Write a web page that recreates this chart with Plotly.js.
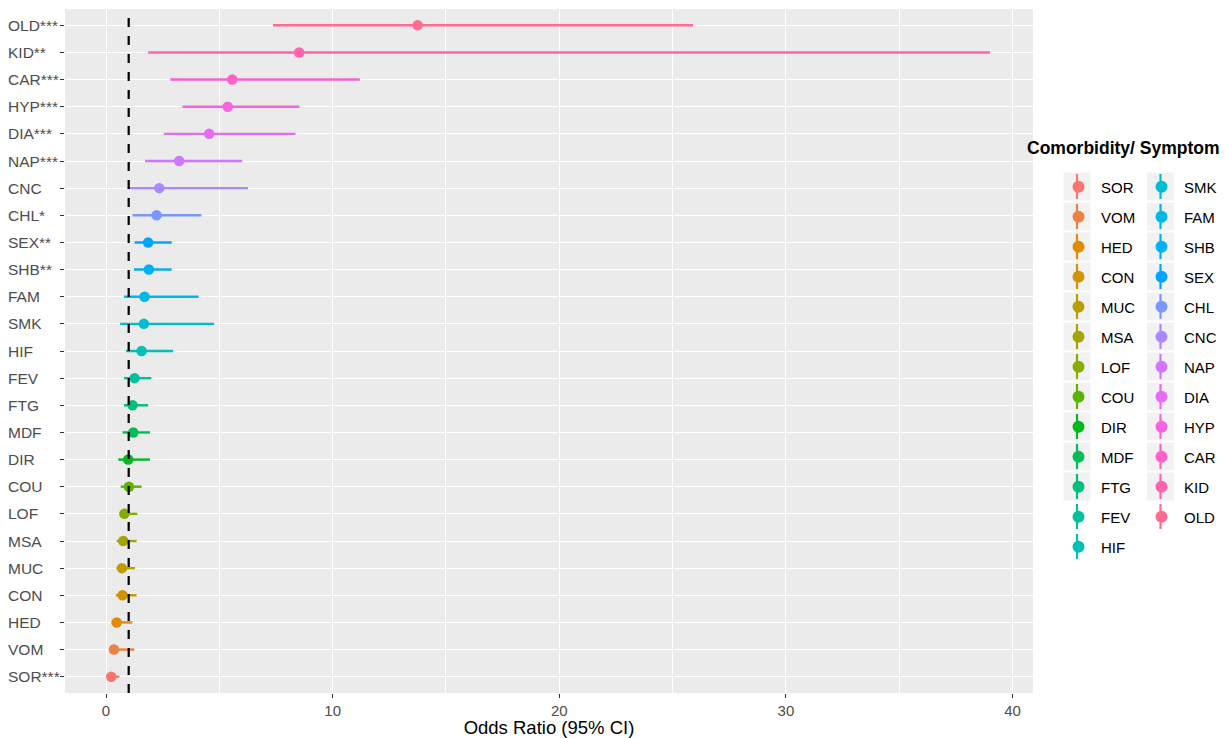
<!DOCTYPE html>
<html>
<head>
<meta charset="utf-8">
<script src="https://cdn.plot.ly/plotly-3.0.1.min.js"></script>
<style>html,body{margin:0;padding:0;background:#fff;}#chart{width:1225px;height:738px;}</style>
</head>
<body>
<div id="chart"></div>
<script>
// Categories, bottom to top (also legend order)
const categories = ["SOR","VOM","HED","CON","MUC","MSA","LOF","COU","DIR","MDF","FTG","FEV","HIF","SMK","FAM","SHB","SEX","CHL","CNC","NAP","DIA","HYP","CAR","KID","OLD"];
const tickLabels = ["SOR***","VOM","HED","CON","MUC","MSA","LOF","COU","DIR","MDF","FTG","FEV","HIF","SMK","FAM","SHB**","SEX**","CHL*","CNC","NAP***","DIA***","HYP***","CAR***","KID**","OLD***"];
const oddsRatio = [0.23,0.35,0.47,0.73,0.70,0.76,0.81,1.01,0.98,1.20,1.17,1.26,1.57,1.67,1.70,1.89,1.86,2.23,2.35,3.23,4.55,5.37,5.57,8.52,13.75];
const ciLow  = [0.06,0.13,0.25,0.43,0.47,0.47,0.62,0.65,0.54,0.73,0.79,0.79,0.88,0.62,0.79,1.23,1.26,1.17,0.95,1.72,2.55,3.37,2.84,1.86,7.37];
const ciHigh = [0.59,1.25,1.16,1.35,1.28,1.35,1.38,1.57,1.94,1.94,1.86,2.00,2.96,4.77,4.08,2.90,2.90,4.21,6.26,6.01,8.36,8.53,11.20,39.00,25.90];
const xTickVals = [0,10,20,30,40];
const referenceOR = 1;
const legendTitle = "Comorbidity/ Symptom";
const xTitle = "Odds Ratio (95% CI)";

// ggplot2 hue palette (HCL, l=65, c=100)
function hcl(h, c, l) {
  const Xn = 95.047, Yn = 100, Zn = 108.883;
  const hr = h * Math.PI / 180;
  const u = c * Math.cos(hr), v = c * Math.sin(hr);
  const Y = l > 8 ? Yn * Math.pow((l + 16) / 116, 3) : Yn * l / 903.3;
  const den = Xn + 15 * Yn + 3 * Zn;
  const un = 4 * Xn / den, vn = 9 * Yn / den;
  const up = u / (13 * l) + un, vp = v / (13 * l) + vn;
  const X = Y * 9 * up / (4 * vp);
  const Z = Y * (12 - 3 * up - 20 * vp) / (4 * vp);
  const x = X / 100, y = Y / 100, z = Z / 100;
  let r = 3.2404542 * x - 1.5371385 * y - 0.4985314 * z;
  let g = -0.9692660 * x + 1.8760108 * y + 0.0415560 * z;
  let b = 0.0556434 * x - 0.2040259 * y + 1.0572252 * z;
  const gam = t => { t = t <= 0.0031308 ? 12.92 * t : 1.055 * Math.pow(t, 1 / 2.4) - 0.055; return Math.round(Math.max(0, Math.min(1, t)) * 255); };
  return "rgb(" + gam(r) + "," + gam(g) + "," + gam(b) + ")";
}
const n = categories.length;
const colors = categories.map((_, i) => hcl(15 + 360 * i / n, 100, 65));

const FONT = "Liberation Sans, Arial, Helvetica, sans-serif";
const W = 1225, H = 738;
const M = {l: 65, r: 192, t: 9, b: 45};
const PW = W - M.l - M.r, PH = H - M.t - M.b;
const px2x = p => (p - M.l) / PW;
const px2y = p => (H - M.b - p) / PH;
const cx2 = p => p / W;
const cy2 = p => 1 - p / H;

const col1Count = 13;
const traces = categories.map((c, i) => ({
  type: "scatter",
  mode: "markers",
  x: [oddsRatio[i]],
  y: [c],
  name: c,
  legendgroup: c,
  legend: i < col1Count ? "legend" : "legend2",
  marker: {color: colors[i], size: 10.5},
  error_x: {
    type: "data", symmetric: false,
    array: [ciHigh[i] - oddsRatio[i]],
    arrayminus: [oddsRatio[i] - ciLow[i]],
    width: 0, thickness: 2.4, color: colors[i]
  },
  hoverinfo: "x+y+name"
}));

const annotations = categories.map((c, i) => ({
  xref: "paper", yref: "y", x: px2x(6), y: c,
  xanchor: "left", yanchor: "middle", showarrow: false,
  text: tickLabels[i],
  font: {family: FONT, size: 15.5, color: "#4d4d4d"}
}));
annotations.push({
  xref: "paper", yref: "paper", x: px2x(1025), y: px2y(148),
  xanchor: "left", yanchor: "middle", showarrow: false,
  text: "<b>" + legendTitle + "</b>",
  font: {family: FONT, size: 17.5, color: "#000"}
});

// reference line + legend key decorations (grey key boxes, vertical pointrange strokes)
const shapes = [{
  type: "line", xref: "x", yref: "paper", x0: referenceOR, x1: referenceOR, y0: 0, y1: 1,
  line: {color: "#000", width: 2.2, dash: "dash"}
}];
const rowH = 30, row0 = 186.5;
categories.forEach((c, i) => {
  const col = i < col1Count ? 0 : 1;
  const row = col === 0 ? i : i - col1Count;
  const cx = col === 0 ? 1077 : 1160.5;
  const cy = row0 + row * rowH;
  if (!(c === "FEV" || c === "HIF" || c === "OLD")) {
    shapes.push({
      type: "rect", xref: "paper", yref: "paper", layer: "below",
      x0: px2x(cx - 13.5), x1: px2x(cx + 13.5), y0: px2y(cy + 14), y1: px2y(cy - 14),
      fillcolor: "#f2f2f2", line: {width: 0}
    });
  }
  shapes.push({
    type: "line", xref: "paper", yref: "paper", layer: "above",
    x0: px2x(cx), x1: px2x(cx), y0: px2y(cy + 12.5), y1: px2y(cy - 12.5),
    line: {color: colors[i], width: 2.2}
  });
});

const legendBase = {
  xref: "container", yref: "container",
  xanchor: "left", yanchor: "top", y: cy2(170.5),
  maxheight: 1000,
  bgcolor: "rgba(0,0,0,0)", borderwidth: 0,
  font: {family: FONT, size: 15, color: "#000"},
  traceorder: "grouped", tracegroupgap: 7.5, itemsizing: "constant", itemwidth: 35
};

const layout = {
  width: W, height: H,
  margin: M,
  paper_bgcolor: "#fff", plot_bgcolor: "#ebebeb",
  font: {family: FONT, size: 14, color: "#4d4d4d"},
  showlegend: true,
  legend: Object.assign({}, legendBase, {x: cx2(1056)}),
  legend2: Object.assign({}, legendBase, {x: cx2(1139)}),
  xaxis: {
    range: [-1.81, 40.9],
    tickmode: "array", tickvals: xTickVals, ticktext: xTickVals.map(String),
    ticks: "outside", ticklen: 4, tickwidth: 1.1, tickcolor: "#333",
    tickfont: {family: FONT, size: 15, color: "#4d4d4d"},
    showgrid: true, gridcolor: "#fff", gridwidth: 1.2,
    minor: {dtick: 5, tick0: 0, showgrid: true, gridcolor: "#fff", gridwidth: 0.55, ticks: ""},
    zeroline: false, showline: false,
    title: {text: xTitle, font: {family: FONT, size: 18.5, color: "#000"}, standoff: 3}
  },
  yaxis: {
    type: "category", categoryorder: "array", categoryarray: categories,
    range: [-0.6, n - 0.4],
    showticklabels: false,
    ticks: "outside", ticklen: 4, tickwidth: 1.1, tickcolor: "#333",
    showgrid: true, gridcolor: "#fff", gridwidth: 1.2,
    zeroline: false, showline: false
  },
  annotations: annotations,
  shapes: shapes
};

Plotly.newPlot("chart", traces, layout, {displayModeBar: false, responsive: false});
</script>
</body>
</html>
